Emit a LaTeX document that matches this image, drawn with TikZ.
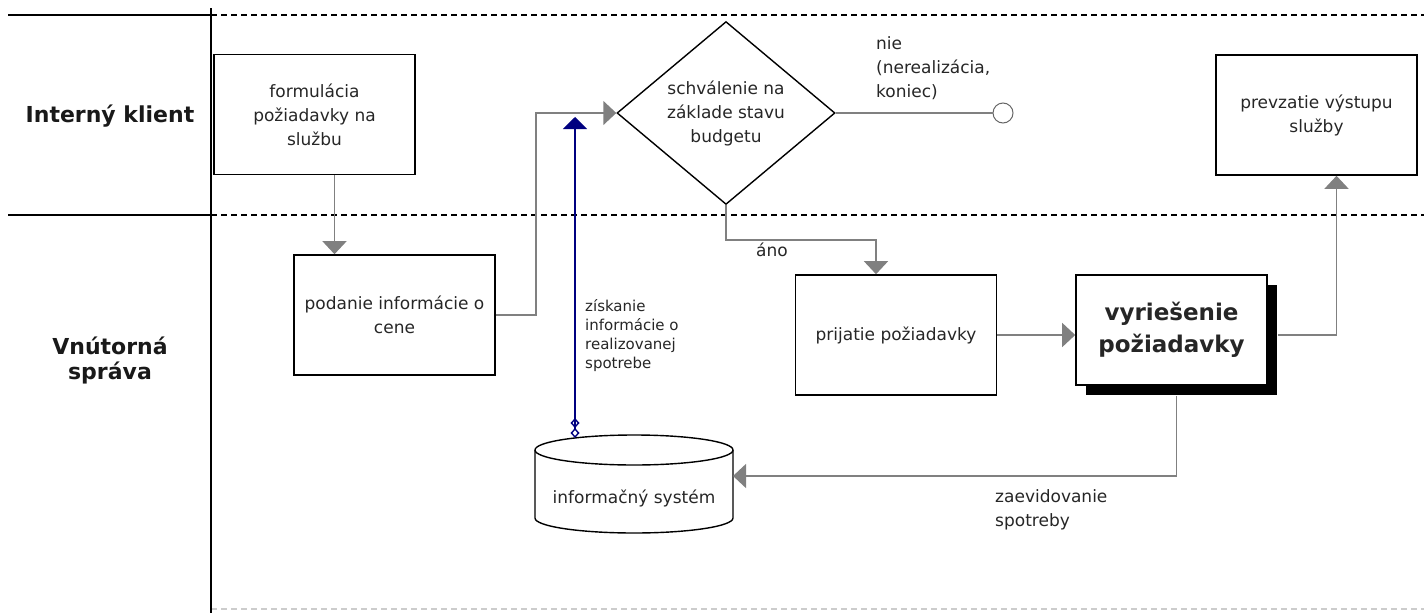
\documentclass[tikz,border=0pt]{standalone}
\usepackage{fontspec}
\setmainfont{DejaVu Sans}
\usepackage{tikz}
\usetikzlibrary{calc}
\usetikzlibrary{arrows.meta}
\usetikzlibrary{shapes.geometric}
\usetikzlibrary{shadows}
\definecolor{navy}{RGB}{0,0,128}
\colorlet{linegray}{black!50}
\tikzset{
  lane/.style={font=\bfseries\fontsize{22}{25}\selectfont,align=center,text=black!90},
  activity/.style={draw,line width=1.6pt,minimum width=201pt,minimum height=120pt,align=center,inner sep=2pt},
  flow/.style={draw=linegray,line width=1.4pt,-{Triangle[width=24pt,length=13pt]}},
  info/.style={draw=navy,line width=1.4pt,{Diamond[open,width=9pt,length=10pt] Diamond[open,width=9pt,length=10pt]}-{Triangle[width=24pt,length=12pt]}},
  note/.style={align=left,inner sep=0pt},
  swim/.style={line width=1.6pt,dash pattern=on 6pt off 4pt}
}

\begin{document}
\begin{tikzpicture}[x=1pt,y=-1pt,font=\fontsize{17}{24}\selectfont,text=black!85]
	\useasboundingbox (0,0) rectangle (1424,613);
	% lanes
	\node[lane] (klient) at (110,116) {Interný klient};
	\node[lane] (sprava) at (110,360) {Vnútorná\\správa};
	\draw[line width=1.6pt] (8,15) -- (211,15);
	\draw[swim] (211,15) -- (1424,15);
	\draw[line width=1.6pt] (8,215) -- (211,215);
	\draw[swim] (211,215) -- (1424,215);
	\draw[swim,black!20] (211,609) -- (1424,609);
	\draw[line width=1.6pt] (211,8) -- (211,613);
	% activities
	\node[activity] (form) at (314.5,114.5) {formulácia\\požiadavky na\\službu};
	\node[activity] (podanie) at (394.5,315) {podanie informácie o\\cene};
	\node[draw,diamond,line width=1.4pt,inner sep=0pt,minimum width=218pt,minimum height=166pt,align=center] (dec) at (726,113) {schválenie na\\základe stavu\\budgetu};
	\node[draw=black!60,circle,line width=1pt,minimum size=20pt,inner sep=0pt] (koniec) at (1003,113) {};
	\node[activity] (prij) at (896,335) {prijatie požiadavky};
	\node[activity,minimum width=191pt,minimum height=110pt,fill=white,font=\bfseries\fontsize{23}{32}\selectfont,
		general shadow={fill=black,shadow xshift=10pt,shadow yshift=-10pt}] (vyr) at (1171.5,330) {vyriešenie\\požiadavky};
	\node[activity] (prev) at (1316.5,115) {prevzatie výstupu\\služby};
	% database
	\draw[line width=1.4pt] (535,450) -- (535,518) arc[start angle=180,end angle=0,x radius=99,y radius=15] -- (733,450);
	\draw[line width=1.4pt] (634,450) ellipse[x radius=99,y radius=15];
	\node (db) at (634,498) {informačný systém};
	\coordinate (dbin) at (733,476);
	\coordinate (dbtop) at (575,438);
	\coordinate (infoend) at (575,117);
	% connectors
	\draw[flow] ([xshift=20pt]form.south) -- ([xshift=-60pt]podanie.north);
	\draw[flow] (podanie.east) -- ++(40,0) |- (dec.west);
	\draw[draw=linegray,line width=1.4pt] (dec.east) -- (koniec);
	\node[note,anchor=west] (nie) at (876,68) {nie\\(nerealizácia,\\koniec)};
	\draw[flow] (dec.south) -- ++(0,35) -| ([xshift=-20pt]prij.north);
	\node (ano) at (772,250) {áno};
	\draw[flow] (prij.east) -- (prij.east -| vyr.west);
	\draw[flow] ([shift={(10,5)}]vyr.east) -| ([xshift=20pt]prev.south);
	\draw[flow] ([shift={(5,10)}]vyr.south) |- (dbin);
	\node[note,anchor=west] (zaev) at (995,510) {zaevidovanie\\spotreby};
	\draw[info] (dbtop) -- (infoend);
	\node[note,anchor=west,font=\fontsize{15}{19}\selectfont] (zisk) at (585,336) {získanie\\informácie o\\realizovanej\\spotrebe};
\end{tikzpicture}
\end{document}
